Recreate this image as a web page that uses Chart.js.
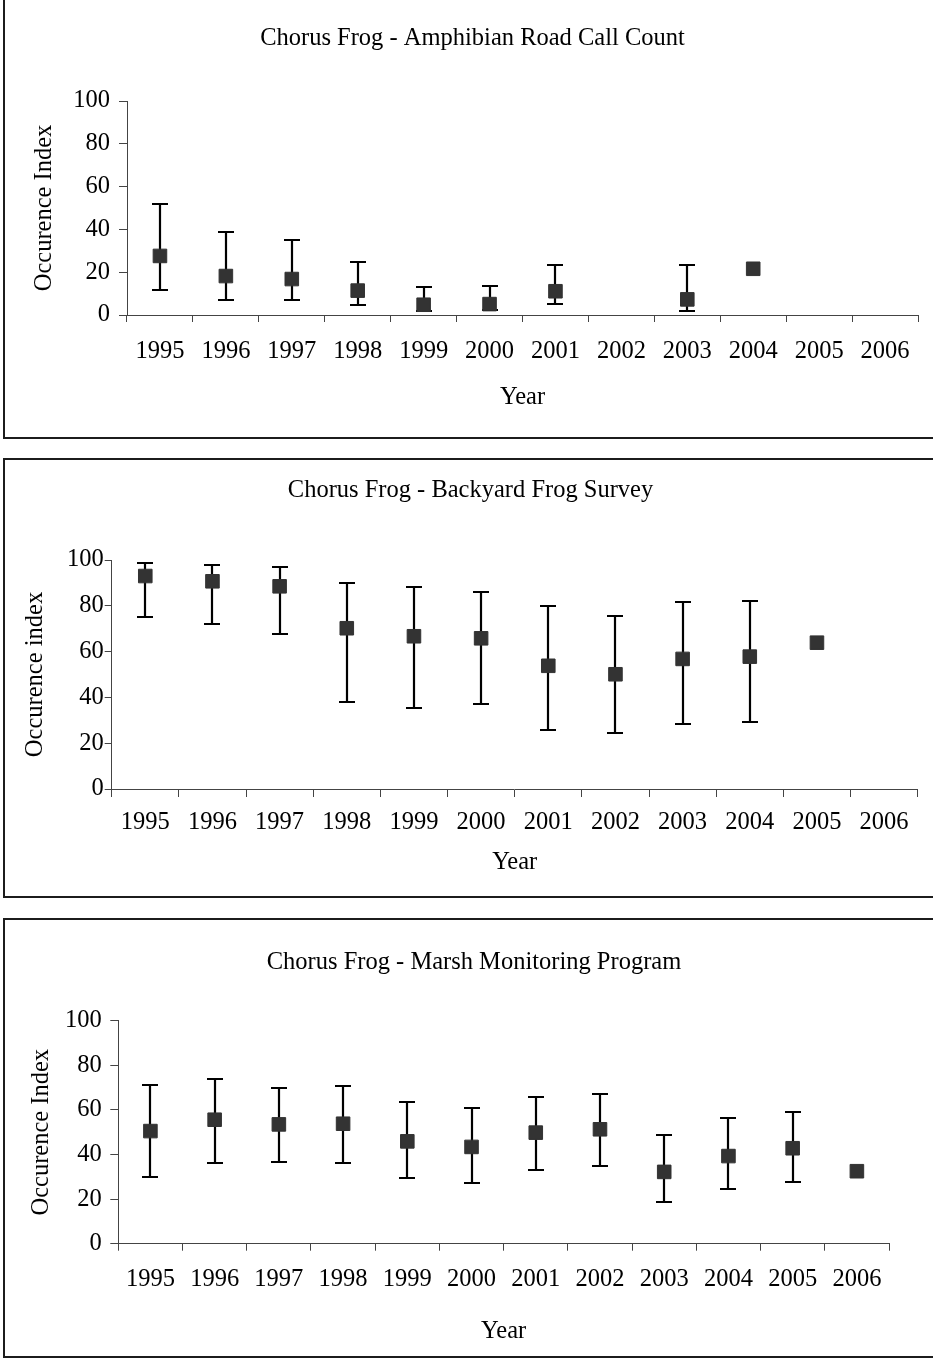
<!DOCTYPE html>
<html>
<head>
<meta charset="utf-8">
<script src="https://cdn.jsdelivr.net/npm/chart.js@4.4.1/dist/chart.umd.min.js"></script>
<style>
  html, body { margin: 0; padding: 0; background: #fff; overflow: hidden; }
  body { width: 933px; height: 1359px; position: relative; }
  .panel { position: absolute; left: 3px; width: 940px; border: 2px solid #1c1c1c; box-sizing: border-box; background: #fff; }
  .panel canvas { position: absolute; left: 0; top: 0; }
</style>
</head>
<body>
<div class="panel" style="top:-2px;height:441px"><canvas id="c1" width="928" height="437"></canvas></div>
<div class="panel" style="top:458px;height:440px"><canvas id="c2" width="928" height="436"></canvas></div>
<div class="panel" style="top:918px;height:440px"><canvas id="c3" width="928" height="436"></canvas></div>
<script>
// Years on the x axis (shared by all three panels)
const years = ['1995', '1996', '1997', '1998', '1999', '2000', '2001', '2002', '2003', '2004', '2005', '2006'];

// Amphibian Road Call Count
const roadMean  = [27.6, 18.2, 16.8, 11.4, 4.8, 5.1, 11.1, null, 7.3, 21.6, null, null];
const roadUpper = [52.0, 38.9, 34.9, 24.6, 13.1, 13.4, 23.2, null, 23.2, null, null, null];
const roadLower = [11.8, 7.2, 7.2, 4.5, 2.0, 2.5, 5.0, null, 2.0, null, null, null];

// Backyard Frog Survey
const yardMean  = [93.0, 90.7, 88.5, 70.2, 66.7, 65.8, 53.8, 50.1, 56.8, 57.8, 63.9, null];
const yardUpper = [98.5, 97.8, 96.8, 90.0, 88.1, 86.2, 79.8, 75.4, 81.5, 82.0, null, null];
const yardLower = [75.2, 72.2, 67.8, 38.0, 35.4, 37.3, 25.6, 24.6, 28.4, 29.1, null, null];

// Marsh Monitoring Program
const marshMean  = [50.5, 55.6, 53.5, 53.8, 45.9, 43.4, 49.8, 51.3, 32.2, 39.3, 42.8, 32.5];
const marshUpper = [71.0, 73.7, 69.7, 70.7, 63.7, 61.0, 65.9, 67.1, 48.7, 56.5, 58.9, null];
const marshLower = [30.0, 36.0, 36.5, 36.0, 29.3, 27.2, 33.2, 35.0, 18.8, 24.4, 27.8, null];

const yMin = 0, yMax = 100, yStep = 20;

(function() {
  'use strict';

  const FONT = { family: '"Liberation Serif", "Times New Roman", serif', size: 24.5, weight: 'normal' };
  const AXIS = '#444';

  // error bars drawn under the markers
  const errorBars = {
    id: 'errorBars',
    beforeDatasetsDraw(chart, args, opts) {
      const ctx = chart.ctx, xs = chart.scales.x, ys = chart.scales.y;
      ctx.save();
      ctx.strokeStyle = '#000';
      ctx.lineWidth = 2.2;
      opts.upper.forEach(function(u, i) {
        const l = opts.lower[i];
        if (u == null || l == null) return;
        const x = Math.round(xs.getPixelForValue(i));
        const yu = Math.round(ys.getPixelForValue(u)), yl = Math.round(ys.getPixelForValue(l));
        ctx.beginPath();
        ctx.moveTo(x, yu); ctx.lineTo(x, yl);
        ctx.moveTo(x - 8, yu); ctx.lineTo(x + 8, yu);
        ctx.moveTo(x - 8, yl); ctx.lineTo(x + 8, yl);
        ctx.stroke();
      });
      ctx.restore();
    }
  };

  const panelTitle = {
    id: 'panelTitle',
    afterDraw(chart, args, opts) {
      const ctx = chart.ctx;
      ctx.save();
      ctx.font = FONT.size + 'px ' + FONT.family;
      ctx.fillStyle = '#000';
      ctx.textAlign = 'center';
      ctx.textBaseline = 'middle';
      ctx.fillText(opts.text, opts.x, opts.y);
      ctx.restore();
    }
  };

  function makeChart(id, title, yTitle, mean, upper, lower, c) {
    new Chart(document.getElementById(id), {
      type: 'line',
      data: {
        labels: years,
        datasets: [{
          data: mean,
          showLine: false,
          pointStyle: 'rect',
          pointRadius: 9.6,
          pointHoverRadius: 9.6,
          pointBackgroundColor: '#333',
          pointBorderColor: '#333',
          pointBorderWidth: 1
        }]
      },
      plugins: [errorBars, panelTitle],
      options: {
        responsive: false,
        animation: false,
        events: [],
        layout: { padding: { left: 0, right: c.right, top: c.top, bottom: 0 } },
        plugins: {
          legend: { display: false },
          tooltip: { enabled: false },
          title: { display: false },
          errorBars: { upper: upper, lower: lower },
          panelTitle: { text: title, x: c.titleX, y: c.titleY }
        },
        scales: {
          x: {
            type: 'category',
            offset: true,
            grid: { offset: true, drawOnChartArea: false, tickLength: c.xTl, color: AXIS },
            border: { color: AXIS, width: 1 },
            ticks: { color: '#000', font: FONT, padding: c.xPad, maxRotation: 0, autoSkip: false },
            title: { display: true, text: 'Year', color: '#000', font: FONT, padding: { top: 0, bottom: c.xTitlePad } },
            afterFit: function(s) { s.height = c.xh; }
          },
          y: {
            min: yMin,
            max: yMax,
            grid: { drawOnChartArea: false, tickLength: c.yTl, color: AXIS },
            border: { color: AXIS, width: 1 },
            ticks: { stepSize: yStep, color: '#000', font: FONT, padding: c.yPad },
            title: { display: true, text: yTitle, color: '#000', font: FONT, padding: { top: c.yTitlePad, bottom: 0 } },
            afterFit: function(s) { s.width = c.yw; }
          }
        }
      }
    });
  }

  makeChart('c1', 'Chorus Frog - Amphibian Road Call Count', 'Occurence Index', roadMean, roadUpper, roadLower,
    { right: 15, top: 101, yw: 122, xh: 122, yTl: 8, yPad: 9, yTitlePad: 25, xTl: 7, xPad: 15, xTitlePad: 25, titleX: 467.5, titleY: 38.7 });

  makeChart('c2', 'Chorus Frog - Backyard Frog Survey', 'Occurence index', yardMean, yardUpper, yardLower,
    { right: 15.3, top: 100, yw: 106.7, xh: 107, yTl: 7, yPad: 1, yTitlePad: 15.5, xTl: 8, xPad: 10.8, xTitlePad: 19.2, titleX: 465.5, titleY: 31 });

  makeChart('c3', 'Chorus Frog - Marsh Monitoring Program', 'Occurence Index', marshMean, marshUpper, marshLower,
    { right: 44, top: 100.7, yw: 113.3, xh: 112.3, yTl: 8, yPad: 8.5, yTitlePad: 22.2, xTl: 7, xPad: 13.8, xTitlePad: 10.2, titleX: 469, titleY: 42.5 });
})();
</script>
</body>
</html>
